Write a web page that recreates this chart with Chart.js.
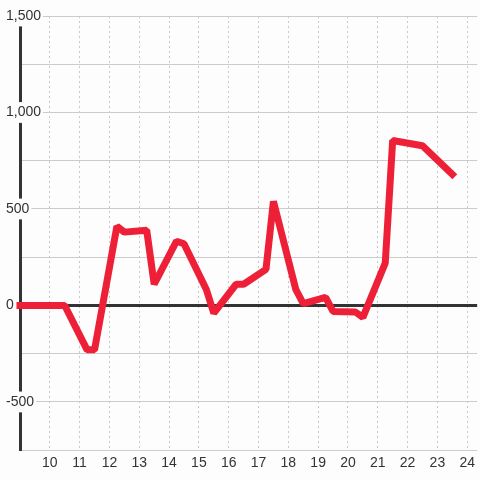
<!DOCTYPE html>
<html><head><meta charset="utf-8">
<script src="https://cdn.jsdelivr.net/npm/chart.js@4"></script>
<style>html,body{margin:0;padding:0;background:#fcfdfc;} #wrap{width:480px;height:480px;}</style>
</head><body><div id="wrap"><canvas id="c" width="480" height="480"></canvas></div>
<script>
const hours = [9, 10.5, 11.25, 11.5, 12.25, 12.5, 13.25, 13.5, 14.25, 14.5, 15.25, 15.5, 16.25, 16.5, 17.25, 17.5, 18.25, 18.5, 19.25, 19.5, 20.25, 20.5, 21.25, 21.5, 22.5, 23.5];
const values = [0, 0, -230, -230, 410, 380, 390, 110, 333, 320, 83, -40, 110, 110, 187, 540, 83, 10, 42, -31, -34, -62, 219, 855, 828, 680];
const xTicks = [10, 11, 12, 13, 14, 15, 16, 17, 18, 19, 20, 21, 22, 23, 24];
const yTicks = [-750, -500, -250, 0, 250, 500, 750, 1000, 1250, 1500];
const yLabeled = [-500, 0, 500, 1000, 1500];

const BG = '#fcfdfc';
const font = {family: "'Liberation Sans', Arial, sans-serif", size: 14};

new Chart(document.getElementById('c'), {
  type: 'line',
  data: {
    datasets: [{
      data: hours.map((h, i) => ({x: h, y: values[i]})),
      borderColor: '#ee2037',
      borderWidth: 7,
      pointRadius: 0,
      tension: 0,
      borderJoinStyle: 'bevel',
      borderCapStyle: 'square',
      clip: false,
      fill: false
    }]
  },
  options: {
    responsive: false,
    animation: false,
    plugins: {legend: {display: false}, tooltip: {enabled: false}},
    layout: {padding: {left: 6, top: 16, right: 0, bottom: 3}},
    scales: {
      x: {
        type: 'linear', min: 9, max: 24.333,
        afterBuildTicks: s => { s.ticks = xTicks.map(v => ({value: v})); },
        grid: {color: '#c8c8c8', lineWidth: 1, drawTicks: false},
        border: {display: false, dash: [2, 3]},
        ticks: {padding: 5, color: '#333', font, maxRotation: 0, autoSkip: false,
                callback: v => String(v)}
      },
      y: {
        min: -750, max: 1500,
        afterBuildTicks: s => { s.ticks = yTicks.map(v => ({value: v})); },
        afterFit: s => { s.width = 14; },
        grid: {drawTicks: false,
               color: c => (c.tick && c.tick.value === 0) ? '#333' : '#cccccc',
               lineWidth: c => (c.tick && c.tick.value === 0) ? 3 : 1},
        border: {display: true, color: '#333', width: 3},
        ticks: {
          mirror: true, crossAlign: 'near', padding: -14, color: '#333', font, autoSkip: false,
          callback: v => yLabeled.includes(v) ? v.toLocaleString('en-US') : '',
          showLabelBackdrop: c => !!(c.tick && yLabeled.includes(c.tick.value)),
          backdropColor: BG, backdropPadding: 2
        }
      }
    }
  },
  plugins: [{
    id: 'bg',
    beforeDraw: ch => { const g = ch.ctx; g.save(); g.fillStyle = BG; g.fillRect(0, 0, ch.width, ch.height); g.restore(); }
  }]
});
</script></body></html>
